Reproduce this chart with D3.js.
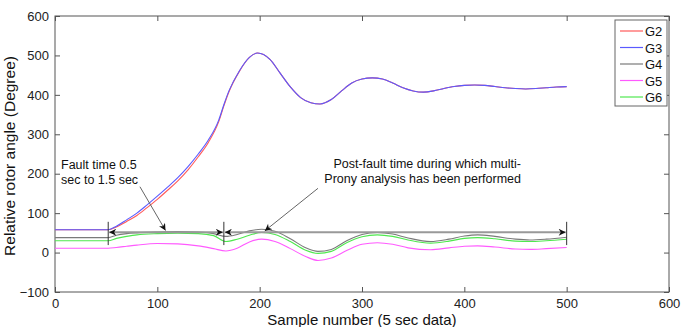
<!DOCTYPE html>
<html>
<head>
<meta charset="utf-8">
<script src="https://cdn.jsdelivr.net/npm/d3@7"></script>
<style>
  body { margin: 0; background: #fff; }
  text { font-family: "Liberation Sans", Arial, sans-serif; }
</style>
</head>
<body>
<div class="chart-container"></div>
<script>
// sample positions for each series
const xG2 = [0, 52, 60, 70, 80, 90, 100, 110, 120, 130, 140, 150, 160, 165, 170, 180, 190, 198, 210, 220, 230, 240, 250, 259, 270, 280, 290, 300, 310, 320, 330, 340, 350, 360, 370, 380, 390, 400, 410, 420, 430, 440, 450, 460, 470, 480, 490, 500];
const g2 = [58, 58, 65, 79, 94, 114, 135, 158, 182, 210, 243, 280, 332, 372, 408, 459, 495, 506, 490, 455, 420, 393, 380, 377, 388, 410, 430, 440, 443, 440, 430, 418, 410, 407, 410, 416, 421, 424, 425, 424, 421, 418, 416, 415, 416, 418, 420, 421];
const g3 = [58, 58, 67, 83, 100, 121, 143, 166, 190, 218, 250, 286, 336, 375, 410, 460, 495, 506, 490, 455, 420, 393, 380, 377, 388, 410, 430, 440, 443, 440, 430, 418, 410, 407, 410, 416, 421, 424, 425, 424, 421, 418, 416, 415, 416, 418, 420, 421];

const xLow = [0, 52, 60, 70, 80, 100, 120, 140, 155, 167, 178, 190, 202, 215, 230, 245, 257, 270, 285, 300, 315, 330, 345, 367, 385, 400, 413, 430, 450, 464, 480, 500];
const g4 = [38, 38, 44, 48, 50, 52, 53, 52, 48, 41, 46, 55, 59, 54, 35, 12, 3, 8, 30, 46, 51, 47, 37, 28, 34, 42, 45, 41, 34, 32, 34, 39];
const g5 = [11, 11, 13, 16, 19, 23, 22, 17, 10, 4, 11, 27, 34, 28, 10, -10, -20, -14, 5, 21, 25, 21, 12, 7, 12, 16, 17, 14, 9, 8, 10, 13];
const g6 = [30, 30, 36, 41, 45, 48, 49, 48, 43, 28, 34, 44, 51, 46, 28, 6, -2, 3, 25, 40, 45, 41, 32, 24, 29, 36, 38, 35, 29, 28, 30, 34];

const seriesNames = ["G2", "G3", "G4", "G5", "G6"];
const seriesColors = ["#ff5a5a", "#5a5aff", "#7a7a7a", "#ff5aff", "#4fe84f"];

const xTicks = [0, 100, 200, 300, 400, 500, 600];
const yTicks = [-100, 0, 100, 200, 300, 400, 500, 600];

// annotation positions (sample number, degree)
const faultStart = 52, faultEnd = 165, postEnd = 500, arrowLevel = 51.5;

const series = [
  { name: "G2", xs: xG2, ys: g2 },
  { name: "G3", xs: xG2, ys: g3 },
  { name: "G4", xs: xLow, ys: g4 },
  { name: "G5", xs: xLow, ys: g5 },
  { name: "G6", xs: xLow, ys: g6 }
];

const W = 681, H = 327;
const margin = { top: 16, right: 12, bottom: 35, left: 55 };
const width = W - margin.left - margin.right,
      height = H - margin.top - margin.bottom;

const svgRoot = d3.select(".chart-container").append("svg")
    .attr("width", W)
    .attr("height", H);

const defs = svgRoot.append("defs");
defs.append("marker")
    .attr("id", "head")
    .attr("viewBox", "0 0 10 10")
    .attr("refX", 10).attr("refY", 5)
    .attr("markerWidth", 9).attr("markerHeight", 7)
    .attr("markerUnits", "userSpaceOnUse")
    .attr("orient", "auto-start-reverse")
    .append("path").attr("d", "M0,0 L10,5 L0,10 L3,5 Z").attr("fill", "#111");

const svg = svgRoot.append("g")
    .attr("transform", "translate(" + margin.left + "," + margin.top + ")");

const x = d3.scaleLinear().domain([0, 600]).range([0, width]);
const y = d3.scaleLinear().domain([-100, 600]).range([height, 0]);

const axisColor = "#555";

// bottom / left axes with labels, ticks pointing inward
const gx = svg.append("g")
    .attr("transform", "translate(0," + height + ")")
    .call(d3.axisBottom(x).tickValues(xTicks).tickSizeInner(-5).tickSizeOuter(0).tickPadding(7));
const gy = svg.append("g")
    .call(d3.axisLeft(y).tickValues(yTicks).tickSizeInner(-5).tickSizeOuter(0).tickPadding(6));
// top / right ticks only
const gt = svg.append("g")
    .call(d3.axisTop(x).tickValues(xTicks).tickSizeInner(-5).tickSizeOuter(0).tickFormat(""));
const gr = svg.append("g")
    .attr("transform", "translate(" + width + ",0)")
    .call(d3.axisRight(y).tickValues(yTicks).tickSizeInner(-5).tickSizeOuter(0).tickFormat(""));

[gx, gy, gt, gr].forEach(g => {
  g.select(".domain").remove();
  g.selectAll("line").attr("stroke", axisColor);
  g.selectAll("text").attr("fill", "#222").style("font-size", "13px");
});

svg.append("rect")
    .attr("width", width).attr("height", height)
    .attr("fill", "none").attr("stroke", axisColor).attr("stroke-width", 1);

// the curves
const line = d3.line()
    .x(d => x(d[0]))
    .y(d => y(d[1]))
    .curve(d3.curveMonotoneX);

series.forEach((s, i) => {
  svg.append("path")
      .datum(s.xs.map((v, j) => [v, s.ys[j]]))
      .attr("d", line)
      .attr("fill", "none")
      .attr("stroke", seriesColors[i])
      .attr("stroke-width", 1.1);
});

// time span markers
[faultStart, faultEnd, postEnd].forEach(v => {
  svg.append("line")
      .attr("x1", x(v)).attr("x2", x(v))
      .attr("y1", y(78)).attr("y2", y(19))
      .attr("stroke", "#333").attr("stroke-width", 1);
});

svg.append("line")
    .attr("x1", x(faultStart) + 1).attr("x2", x(faultEnd) - 1)
    .attr("y1", y(arrowLevel)).attr("y2", y(arrowLevel))
    .attr("stroke", "#999").attr("stroke-width", 2)
    .attr("marker-start", "url(#head)").attr("marker-end", "url(#head)");

svg.append("line")
    .attr("x1", x(faultEnd) + 1).attr("x2", x(postEnd) - 1)
    .attr("y1", y(arrowLevel)).attr("y2", y(arrowLevel))
    .attr("stroke", "#999").attr("stroke-width", 2)
    .attr("marker-start", "url(#head)").attr("marker-end", "url(#head)");

// callout arrows
svg.append("line")
    .attr("x1", x(83)).attr("y1", y(167))
    .attr("x2", x(108)).attr("y2", y(56))
    .attr("stroke", "#666").attr("stroke-width", 1)
    .attr("marker-end", "url(#head)");

svg.append("line")
    .attr("x1", x(257)).attr("y1", y(163))
    .attr("x2", x(205)).attr("y2", y(55))
    .attr("stroke", "#666").attr("stroke-width", 1)
    .attr("marker-end", "url(#head)");

// callout text
const t1 = svg.append("text")
    .attr("x", 6).attr("y", 153)
    .style("font-size", "12.5px").attr("fill", "#111");
t1.append("tspan").attr("x", 6).text("Fault time 0.5");
t1.append("tspan").attr("x", 6).attr("dy", 15).text("sec to 1.5 sec");

const t2 = svg.append("text")
    .attr("y", 152)
    .attr("text-anchor", "end")
    .style("font-size", "12.5px").attr("fill", "#111");
t2.append("tspan").attr("x", 466).text("Post-fault time during which multi-");
t2.append("tspan").attr("x", 466).attr("dy", 15).text("Prony analysis has been performed");

// axis titles
svg.append("text")
    .attr("x", width / 2).attr("y", height + 33)
    .attr("text-anchor", "middle")
    .style("font-size", "15px").attr("fill", "#111")
    .text("Sample number (5 sec data)");

svg.append("text")
    .attr("transform", "translate(" + (-40) + "," + (height / 2 + 2) + ") rotate(-90)")
    .attr("text-anchor", "middle")
    .style("font-size", "15.5px").attr("fill", "#111")
    .text("Relative rotor angle (Degree)");

// legend
const lg = svg.append("g").attr("transform", "translate(" + (615 - margin.left) + "," + (20 - margin.top) + ")");
lg.append("rect")
    .attr("width", 52).attr("height", 86)
    .attr("fill", "#fff").attr("stroke", "#666");
seriesNames.forEach((n, i) => {
  const yy = 11 + i * 16.5;
  lg.append("line")
      .attr("x1", 5).attr("x2", 28).attr("y1", yy).attr("y2", yy)
      .attr("stroke", seriesColors[i]).attr("stroke-width", 1.2);
  lg.append("text")
      .attr("x", 30).attr("y", yy + 5)
      .style("font-size", "13px").attr("fill", "#111")
      .text(n);
});
</script>
</body>
</html>
